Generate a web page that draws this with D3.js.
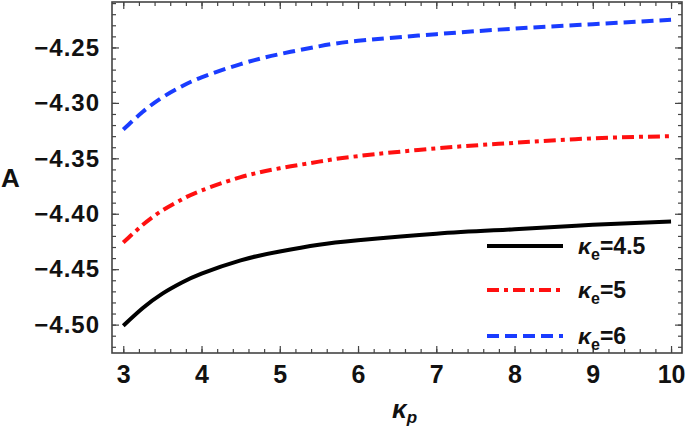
<!DOCTYPE html>
<html>
<head>
<meta charset="utf-8">
<script src="https://cdn.jsdelivr.net/npm/d3@7"></script>
<style>
  body { margin: 0; background: #fff; }
  svg text { font-family: "Liberation Sans", Arial, sans-serif; font-weight: bold; fill: #111; }
</style>
</head>
<body>
<div id="chart"></div>
<script>
// values
var kappaP = [3, 3.25, 3.5, 3.75, 4, 4.5, 5, 5.5, 6, 7, 8, 9, 10];
var aKe45 = [-4.501, -4.485, -4.472, -4.462, -4.454, -4.442, -4.434, -4.428, -4.424, -4.418, -4.414, -4.410, -4.407];
var aKe5  = [-4.426, -4.410, -4.397, -4.387, -4.379, -4.367, -4.359, -4.353, -4.348, -4.341, -4.336, -4.332, -4.330];
var aKe6  = [-4.324, -4.308, -4.295, -4.285, -4.277, -4.265, -4.256, -4.249, -4.244, -4.238, -4.233, -4.229, -4.225];
var seriesNames = ["4.5", "5", "6"];
var xTicks = [3, 4, 5, 6, 7, 8, 9, 10];
var yTicks = [-4.50, -4.45, -4.40, -4.35, -4.30, -4.25];

var width = 685, height = 430;
var plotL = 112, plotR = 682, plotT = 2, plotB = 353;

var x = d3.scaleLinear().domain([2.856, 10.14]).range([plotL, plotR]);
var y = d3.scaleLinear().domain([-4.5256, -4.209]).range([plotB, plotT]);

var svg = d3.select("#chart").append("svg")
    .attr("width", width)
    .attr("height", height);

svg.append("clipPath").attr("id", "clip")
  .append("rect")
    .attr("x", plotL).attr("y", plotT)
    .attr("width", plotR - plotL).attr("height", plotB - plotT);

// minor ticks
var xMinor = d3.range(3, 10.01, 0.2);
var yMinor = d3.range(-4.52, -4.2099, 0.01);

function styleAxis(g) {
    g.select(".domain").remove();
    g.selectAll(".tick line").attr("stroke", "#444").attr("stroke-width", 1.2);
}

svg.append("g").attr("transform", "translate(0," + plotB + ")")
    .call(d3.axisBottom(x).tickValues(xMinor).tickSize(-4).tickFormat(""))
    .call(styleAxis);
svg.append("g").attr("transform", "translate(0," + plotT + ")")
    .call(d3.axisTop(x).tickValues(xMinor).tickSize(-4).tickFormat(""))
    .call(styleAxis);
svg.append("g").attr("transform", "translate(" + plotL + ",0)")
    .call(d3.axisLeft(y).tickValues(yMinor).tickSize(-4).tickFormat(""))
    .call(styleAxis);
svg.append("g").attr("transform", "translate(" + plotR + ",0)")
    .call(d3.axisRight(y).tickValues(yMinor).tickSize(-4).tickFormat(""))
    .call(styleAxis);

// major ticks
var xAxis = svg.append("g").attr("transform", "translate(0," + plotB + ")")
    .call(d3.axisBottom(x).tickValues(xTicks).tickSize(-7).tickPadding(12).tickFormat(d3.format("d")))
    .call(styleAxis);
xAxis.selectAll("text").style("font-size", "25px").attr("dy", "0.71em");

svg.append("g").attr("transform", "translate(0," + plotT + ")")
    .call(d3.axisTop(x).tickValues(xTicks).tickSize(-7).tickFormat(""))
    .call(styleAxis);

var yAxis = svg.append("g").attr("transform", "translate(" + plotL + ",0)")
    .call(d3.axisLeft(y).tickValues(yTicks).tickSize(-7).tickPadding(12).tickFormat(d3.format(".2f")))
    .call(styleAxis);
yAxis.selectAll("text").style("font-size", "24px").attr("letter-spacing", "1px");

svg.append("g").attr("transform", "translate(" + plotR + ",0)")
    .call(d3.axisRight(y).tickValues(yTicks).tickSize(-7).tickFormat(""))
    .call(styleAxis);

// frame
svg.append("rect")
    .attr("x", plotL).attr("y", plotT)
    .attr("width", plotR - plotL).attr("height", plotB - plotT)
    .attr("fill", "none")
    .attr("stroke", "#444")
    .attr("stroke-width", 1.6);

// curves
var series = [
    { values: aKe45, color: "#000000", dash: null },
    { values: aKe5,  color: "#ff1010", dash: "12,5,4,5" },
    { values: aKe6,  color: "#1a3cff", dash: "12,6" }
];

var line = d3.line()
    .x(function(d) { return x(d[0]); })
    .y(function(d) { return y(d[1]); })
    .curve(d3.curveNatural);

var plot = svg.append("g").attr("clip-path", "url(#clip)");
series.forEach(function(s) {
    plot.append("path")
        .datum(kappaP.map(function(k, i) { return [k, s.values[i]]; }))
        .attr("d", line)
        .attr("fill", "none")
        .attr("stroke", s.color)
        .attr("stroke-width", 4)
        .attr("stroke-dasharray", s.dash);
});

// legend
var legendY = [246, 290, 336];
series.forEach(function(s, i) {
    svg.append("line")
        .attr("x1", 487).attr("x2", 563)
        .attr("y1", legendY[i]).attr("y2", legendY[i])
        .attr("stroke", s.color)
        .attr("stroke-width", 4)
        .attr("stroke-dasharray", s.dash);
    var t = svg.append("text")
        .attr("x", 578).attr("y", legendY[i] + 8)
        .style("font-size", "23px");
    t.append("tspan").style("font-style", "italic").text("κ");
    t.append("tspan").attr("dy", 6).style("font-size", "16px").text("e");
    t.append("tspan").attr("dy", -6).text("=" + seriesNames[i]);
});

// axis titles
var xt = svg.append("text")
    .attr("x", 392).attr("y", 418)
    .style("font-size", "26px");
xt.append("tspan").style("font-style", "italic").text("κ");
xt.append("tspan").attr("dy", 5).style("font-size", "17px").style("font-style", "italic").text("p");

svg.append("text")
    .attr("x", 1).attr("y", 187)
    .style("font-size", "26px")
    .text("A");
</script>
</body>
</html>
